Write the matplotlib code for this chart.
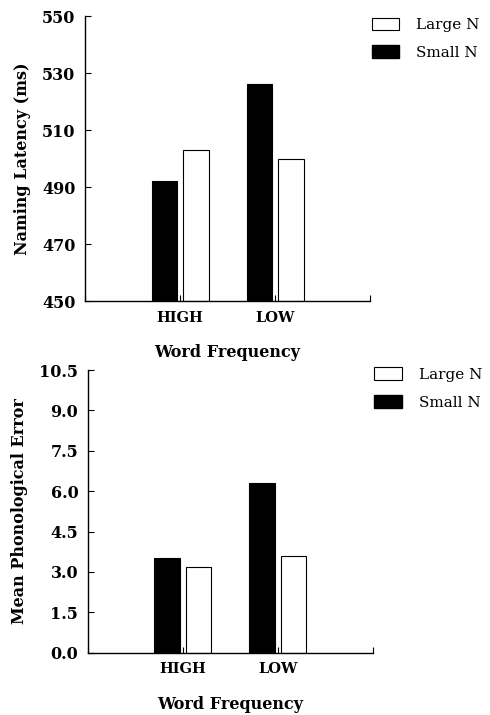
import numpy as np
import matplotlib
matplotlib.use('Agg')
import matplotlib.pyplot as plt
from matplotlib.patches import Patch

plt.rcParams['font.family'] = ['DejaVu Serif']

freq = ['HIGH', 'LOW']
latency_small = [492, 526]
latency_large = [503, 500]
error_small = [3.5, 6.3]
error_large = [3.2, 3.6]

lat_ticks = [450, 470, 490, 510, 530, 550]
err_ticks = [0.0, 1.5, 3.0, 4.5, 6.0, 7.5, 9.0, 10.5]

fig = plt.figure(figsize=(4.9, 7.15), dpi=100)
ax1 = fig.add_axes([0.1735, 0.579, 0.5816, 0.3986])
ax2 = fig.add_axes([0.1796, 0.0871, 0.581, 0.3954])

x = np.arange(1, len(freq) + 1)
w = 0.27
off = 0.165


def panel(ax, small, large, ticks, base, ylabel, fmt, leg_y):
    ax.bar(x - off, np.array(small) - base, w, bottom=base, color='black',
           edgecolor='black', linewidth=0.8, label='Small N', zorder=2)
    ax.bar(x + off, np.array(large) - base, w, bottom=base, color='white',
           edgecolor='black', linewidth=0.8, label='Large N', zorder=2)
    ax.set_xlim(0, 3)
    ax.set_ylim(ticks[0], ticks[-1])
    ax.set_yticks(ticks)
    ax.set_yticklabels([fmt.format(t) for t in ticks], fontsize=11.5, fontweight='bold')
    ax.set_xticks([0, 1, 2, 3])
    ax.set_xticklabels(['', freq[0], freq[1], ''], fontsize=10.5, fontweight='bold')
    ax.tick_params(axis='both', direction='in', length=4, width=0.8, pad=7)
    ax.tick_params(axis='x', pad=7)
    for s in ['top', 'right']:
        ax.spines[s].set_visible(False)
    for s in ['left', 'bottom']:
        ax.spines[s].set_linewidth(1.0)
    ax.set_xlabel('Word Frequency', fontsize=11.5, fontweight='bold', labelpad=14)
    ax.set_ylabel(ylabel, fontsize=11.5, fontweight='bold', labelpad=8)
    handles = [Patch(facecolor='white', edgecolor='black', linewidth=0.8),
               Patch(facecolor='black', edgecolor='black')]
    ax.legend(handles, ['Large N', 'Small N'], loc='upper left',
              bbox_to_anchor=(1.0, leg_y), borderaxespad=0.0, borderpad=0.1,
              frameon=False, handlelength=1.8, handleheight=0.9,
              handletextpad=1.1, labelspacing=0.85,
              prop={'size': 11})


panel(ax1, latency_small, latency_large, lat_ticks, 450,
      'Naming Latency (ms)', '{:.0f}', 1.0)
panel(ax2, error_small, error_large, err_ticks, 0.0,
      'Mean Phonological Error', '{:.1f}', 1.015)

fig.savefig('out.png', dpi=100)
